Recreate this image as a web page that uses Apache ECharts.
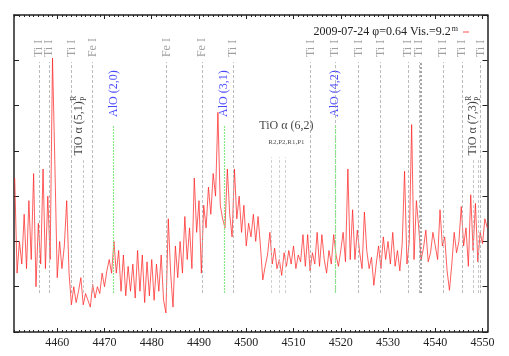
<!DOCTYPE html>
<html>
<head>
<meta charset="utf-8">
<script src="https://cdn.jsdelivr.net/npm/echarts@6/dist/echarts.min.js"></script>
<style>
  html, body { margin: 0; padding: 0; background: #fff; }
  #chart { width: 509px; height: 356px; }
</style>
</head>
<body>
<div id="chart"></div>
<script>
// spectrum, every 0.5 A starting at 4451.0
const seriesName = '2009-07-24 φ=0.64 Vis.=9.2m';
const waveStart = 4451.0;
const waveStep = 0.5;
const flux = [
  3.4, 1.3, 2.0, 1.5, 2.6, 1.4, 2.9, 1.6, 3.5, 1.0,
  2.4, 1.5, 3.6, 1.4, 3.0, 1.6, 6.05, 3.7, 1.2,
  2.0, 1.4, 1.9, 2.9, 1.3, 0.6, 1.0, 0.65, 0.9, 1.2,
  0.6, 0.85, 0.7, 0.55, 1.05, 0.75, 1.0, 0.85, 1.3, 1.0,
  1.35, 1.6, 1.3, 2.0, 1.3, 1.8, 0.9, 1.7, 0.8, 1.45,
  0.9, 1.5, 0.75, 1.8, 0.9, 1.7, 0.65, 1.55, 0.8, 1.6,
  0.7, 1.5, 0.9, 1.7, 0.7, 0.42, 2.5, 1.3, 0.55, 1.9,
  1.2, 2.0, 1.3, 2.55, 1.6, 2.3, 1.4, 3.4, 2.2, 2.9,
  1.3, 2.8, 2.3, 3.2, 2.6, 3.5, 3.0, 4.85, 2.8, 2.5,
  2.3, 3.6, 2.6, 2.1, 3.6, 2.5, 3.0, 2.2, 2.8, 1.9,
  2.4, 2.1, 2.6, 2.0, 2.55, 1.9, 1.15, 1.45, 1.7, 2.2,
  1.5, 1.85, 1.4, 1.6, 1.25, 1.75, 1.45, 1.8, 1.5, 1.9,
  1.4, 1.7, 1.55, 2.15, 1.45, 2.15, 1.35, 1.75, 1.5, 2.2,
  1.45, 2.15, 1.6, 1.3, 1.8, 1.5, 2.15, 1.7, 1.45, 1.8,
  2.2, 1.55, 3.6, 1.6, 2.7, 1.6, 2.25, 1.75, 1.4, 2.65,
  1.8, 1.4, 1.65, 1.03, 1.5, 1.9, 1.4, 2.1, 1.6, 2.0,
  1.5, 2.2, 1.45, 1.8, 1.35, 1.95, 3.55, 1.5, 2.0, 4.58,
  1.6, 2.9, 2.3, 1.6, 1.85, 2.25, 1.55, 1.75, 2.2, 1.9,
  1.6, 2.7, 1.9, 2.1, 1.35, 0.92, 1.5, 2.2, 1.75, 2.0,
  2.77, 1.9, 2.3, 1.45, 3.03, 1.8, 2.84, 1.55, 2.2, 1.95,
  2.5, 2.3
];

const xTicks = [4460, 4470, 4480, 4490, 4500, 4510, 4520, 4530, 4540, 4550];

// line identifications
const tiLines = [4456.2, 4458.3, 4463.0, 4497.2, 4513.6, 4518.8, 4523.8,
                 4528.4, 4534.2, 4536.6, 4541.6, 4545.7, 4549.6];
const feLines = [4467.5, 4483.1, 4490.6];
const blendLines = [4536.85, 4537.1];
const aloLines = [4471.9, 4495.3, 4518.8];
const aloNames = ['AlO (2,0)', 'AlO (3,1)', 'AlO (4,2)'];
const tio51Lines = [4463.0, 4465.4];
const tio62Lines = [4505.3, 4507.0, 4508.2];
const tio73Lines = [4548.0, 4549.1];

const FONT = 'Liberation Serif';
const xMin = 4450.85;
const xMax = 4551.05;

const spectrum = flux.map((v, i) => [waveStart + i * waveStep, v]);
const minorTicks = [];
for (let w = 4451; w <= 4551; w++) minorTicks.push(w);

function vlines(xs, y0, y1) {
  return xs.map(x => [{ coord: [x, y0] }, { coord: [x, y1] }]);
}

function markLines(xs, y0, y1, color, dash, width, z) {
  return {
    type: 'scatter', data: [], silent: true, z: z || 1,
    markLine: {
      silent: true, animation: false,
      symbol: ['none', 'none'],
      label: { show: false },
      lineStyle: { color: color, width: width || 0.8, type: dash },
      data: vlines(xs, y0, y1)
    }
  };
}

function labels(items, style) {
  return {
    type: 'scatter', silent: true, z: 4,
    symbolSize: 0,
    itemStyle: { color: 'transparent' },
    data: items.map(d => ({ value: [d[0], d[1]], name: d[2] })),
    label: Object.assign({
      show: true, formatter: '{b}', position: 'inside',
      fontFamily: FONT, fontSize: 12
    }, style)
  };
}

const rotated = { rotate: 90, align: 'left', verticalAlign: 'middle' };

function xAxisDef(pos, main) {
  return {
    type: 'value', position: pos, min: xMin, max: xMax,
    splitLine: { show: false },
    axisLine: { show: main, onZero: false, lineStyle: { color: '#222', width: 1.5 } },
    axisTick: {
      show: true, inside: true, length: main ? 4 : 2,
      customValues: main ? xTicks : minorTicks,
      lineStyle: { color: '#222', width: 1 }
    },
    axisLabel: {
      show: main && pos === 'bottom', customValues: xTicks,
      formatter: v => String(v),
      fontFamily: FONT, fontSize: 12, color: '#222', margin: 5
    }
  };
}

function yAxisDef(pos) {
  return {
    type: 'value', position: pos, min: 0, max: 7, interval: 1,
    splitLine: { show: false },
    axisLine: { show: true, onZero: false, lineStyle: { color: '#222', width: 1.5 } },
    axisTick: { show: true, inside: true, length: 5, lineStyle: { color: '#222' } },
    axisLabel: { show: false }
  };
}

const chart = echarts.init(document.getElementById('chart'), null, { renderer: 'canvas' });

chart.setOption({
  animation: false,
  backgroundColor: '#fff',
  grid: { left: 14, right: 21.5, top: 15, bottom: 24 },
  xAxis: [
    xAxisDef('bottom', true),
    xAxisDef('top', true),
    xAxisDef('bottom', false),
    xAxisDef('top', false)
  ],
  yAxis: [yAxisDef('left'), yAxisDef('right')],
  legend: {
    data: [seriesName],
    right: 35, top: 20,
    align: 'right',
    icon: 'rect', itemWidth: 6, itemHeight: 1.5, itemGap: 4,
    itemStyle: { color: '#ff8a8a' },
    formatter: () => '2009-07-24 φ=0.64 Vis.=9.2{sup|m}',
    textStyle: {
      fontFamily: FONT, fontSize: 12, color: '#222',
      rich: { sup: { fontFamily: FONT, fontSize: 8, verticalAlign: 'top', padding: [0, 0, 6, 1] } }
    }
  },
  series: [
    markLines(tiLines.concat(feLines), 0.86, 5.96, '#a8a8a8', [3, 2]),
    markLines(blendLines, 0.86, 5.96, '#8a8a8a', [2, 2]),
    markLines(tio51Lines.concat(tio73Lines), 0.86, 3.8, '#b8b8b8', [3, 2]),
    markLines(tio62Lines, 0.86, 3.86, '#c4c4c4', [3, 2]),
    markLines(aloLines, 0.86, 4.57, '#86e886', [2, 1], 1.2, 1.5),
    {
      name: seriesName,
      type: 'line',
      data: spectrum,
      showSymbol: false,
      z: 2,
      lineStyle: { color: '#ff2020', width: 0.9, opacity: 0.8 },
      itemStyle: { color: '#ff2020' }
    },
    labels(tiLines.map(x => [x, 6.07, 'Ti I']).concat(feLines.map(x => [x, 6.07, 'Fe I'])),
      Object.assign({ color: '#8a8a8a' }, rotated)),
    labels(aloLines.map((x, i) => [x, 4.75, aloNames[i]]),
      Object.assign({ color: '#1a1aff' }, rotated)),
    labels([[4464.55, 3.9, 'TiO α (5,1)'], [4547.9, 3.9, 'TiO α (7,3)']],
      Object.assign({ color: '#111' }, rotated)),
    labels([[4463.6, 5.1, 'R'], [4547.2, 5.1, 'R'], [4465.6, 5.1, 'P'], [4549.0, 5.1, 'P']],
      Object.assign({ color: '#111', fontSize: 8 }, rotated)),
    labels([[4508.5, 4.55, 'TiO α (6,2)']], { color: '#111', align: 'center', verticalAlign: 'middle' }),
    labels([[4508.5, 4.2, 'R2,P2,R1,P1']], { color: '#222', fontSize: 7, align: 'center', verticalAlign: 'middle' })
  ]
});
</script>
</body>
</html>
